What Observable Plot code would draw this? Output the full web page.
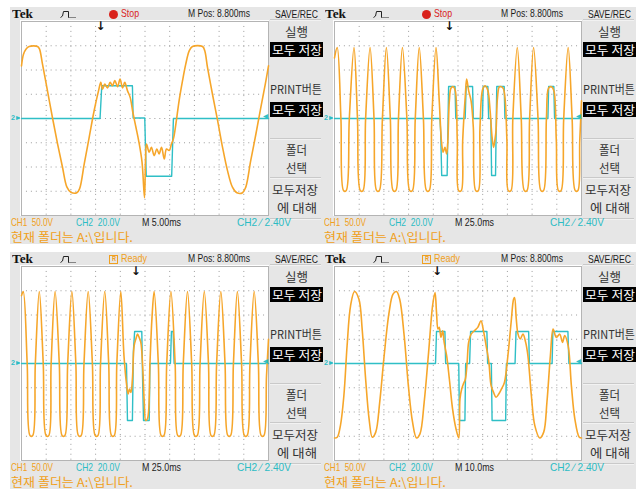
<!DOCTYPE html>
<html><head><meta charset="utf-8">
<script src="https://cdn.jsdelivr.net/npm/d3@7"></script>
<script src="https://cdn.jsdelivr.net/npm/@observablehq/plot@0.6"></script>
<style>
body{margin:0;background:#fff;}
#root{position:relative;width:644px;height:490px;overflow:hidden;background:#fff;}
.panel{position:absolute;width:313px;height:237px;background:#e6e6e6;}
.t{position:absolute;white-space:pre;line-height:1;transform-origin:0 50%;}
.box{position:absolute;background:#000;}
.sep{position:absolute;height:1px;background:#c9c9c9;border-bottom:1px solid #f2f2f2;}
</style></head><body><div id="root"></div>
<script>
// ---- data (x in divisions 0..10, y in divisions -4..4) ----
const p1Ch1 = [[0,2.17],[0.08,2.65],[0.18,2.86],[0.31,2.97],[0.65,2.97],[0.73,2.86],[0.85,2.24],[1.05,1.15],[1.26,0],[1.46,-1.05],[1.66,-2.01],[1.84,-2.83],[2.0,-3.04],[2.24,-3.06],[2.35,-2.9],[2.54,-1.87],[2.74,-0.78],[2.94,0.32],[3.12,1.15],[3.21,1.49],[3.28,1.21],[3.37,1.42],[3.48,1.26],[3.59,1.49],[3.68,1.35],[3.78,1.56],[3.89,1.31],[3.99,1.63],[4.09,1.26],[4.18,1.49],[4.29,1.15],[4.4,0.87],[4.5,0.3],[4.62,-0.3],[4.75,-0.95],[4.88,-1.8],[4.98,-3.27],[5.02,-1.74],[5.06,-1.05],[5.17,-1.39],[5.26,-1.19],[5.37,-1.53],[5.48,-1.26],[5.57,-1.46],[5.67,-1.19],[5.78,-1.67],[5.87,-1.26],[5.98,-1.32],[6.07,-1.05],[6.15,-0.84],[6.25,-0.23],[6.38,0.73],[6.52,1.56],[6.65,2.24],[6.79,2.79],[6.92,2.97],[7.33,2.97],[7.42,2.79],[7.53,2.11],[7.73,1.01],[7.94,-0.09],[8.14,-1.19],[8.34,-2.15],[8.54,-2.83],[8.72,-3.06],[8.95,-3.06],[9.08,-2.83],[9.28,-1.74],[9.49,-0.64],[9.69,0.46],[9.87,1.42],[10,2.17]];
const p1Ch2 = [[0,0],[3.18,0],[3.25,1.35],[4.49,1.35],[4.52,0.02],[4.99,0.02],[5.05,-2.38],[6.08,-2.38],[6.15,0],[10,0]];

const p2Ch1 = [[0,2.5],[0.11,2.93],[0.26,0],[0.37,-2.98],[0.47,-2.98],[0.6,0],[0.79,2.93],[0.93,0],[1.05,-2.98],[1.15,-2.98],[1.26,0],[1.44,2.93],[1.6,0],[1.71,-2.98],[1.81,-2.98],[1.94,0],[2.1,2.93],[2.26,0],[2.38,-2.98],[2.48,-2.98],[2.59,0],[2.75,2.93],[2.93,0],[3.05,-2.98],[3.15,-2.98],[3.27,0],[3.43,2.93],[3.6,0],[3.73,-2.98],[3.83,-2.98],[3.94,0],[4.11,2.93],[4.24,0.73],[4.34,-1.05],[4.4,-1.39],[4.47,-1.19],[4.54,-1.46],[4.59,-0.91],[4.65,0.73],[4.72,1.26],[4.81,1.31],[4.89,1.15],[4.97,-0.91],[5.03,-2.98],[5.13,-2.98],[5.19,-0.91],[5.3,1.01],[5.35,1.63],[5.43,1.15],[5.53,0.73],[5.62,-0.36],[5.72,-2.98],[5.82,-2.98],[5.89,-0.36],[6.0,1.21],[6.1,1.35],[6.21,1.15],[6.3,0.32],[6.38,-0.78],[6.44,-1.19],[6.49,-0.91],[6.54,-0.5],[6.6,0.87],[6.68,1.31],[6.82,1.26],[6.9,0.87],[6.98,-0.91],[7.04,-2.98],[7.14,-2.98],[7.22,0],[7.4,2.93],[7.56,0],[7.69,-2.98],[7.79,-2.98],[7.9,0],[8.06,2.93],[8.24,0],[8.36,-2.98],[8.46,-2.98],[8.58,0],[8.67,1.26],[8.78,1.31],[8.88,1.15],[8.98,-0.91],[9.07,-2.98],[9.17,-2.98],[9.28,0],[9.46,2.93],[9.62,0],[9.75,-2.98],[9.85,-2.98],[9.93,-0.91],[10,0.73]];
const p2Ch2 = [[0,0],[4.27,0],[4.3,-0.6],[4.34,-2.35],[4.56,-2.35],[4.62,1.32],[4.88,1.32],[4.91,0],[5.29,0],[5.33,1.32],[5.59,1.32],[5.62,0],[5.99,0],[6.02,1.32],[6.21,1.32],[6.24,0],[6.33,0],[6.36,-2.35],[6.52,-2.35],[6.55,0],[6.57,1.32],[6.87,1.32],[6.9,0],[8.64,0],[8.67,1.32],[8.88,1.32],[8.91,0],[10,0]];

const p3Ch1 = [[0,2.8],[0.07,2.97],[0.23,0],[0.35,-2.98],[0.45,-2.98],[0.56,0],[0.72,2.97],[0.88,0],[1.0,-2.98],[1.1,-2.98],[1.2,0],[1.36,2.97],[1.53,0],[1.65,-2.98],[1.75,-2.98],[1.87,0],[2.04,2.97],[2.2,0],[2.31,-2.98],[2.41,-2.98],[2.53,0],[2.7,2.97],[2.87,0],[2.99,-2.98],[3.09,-2.98],[3.2,0],[3.37,2.97],[3.53,0],[3.65,-2.98],[3.75,-2.98],[3.86,0],[4.02,2.97],[4.15,0.3],[4.26,-0.91],[4.32,-1.26],[4.37,-1.05],[4.43,-1.19],[4.49,-0.64],[4.56,0.73],[4.63,1.01],[4.7,1.21],[4.76,1.08],[4.83,0.87],[4.9,0],[4.97,-1.6],[5.03,-2.35],[5.1,-2.28],[5.2,0],[5.28,1.83],[5.37,2.97],[5.54,0],[5.66,-2.98],[5.76,-2.98],[5.88,0],[6.05,2.97],[6.22,0],[6.33,-2.98],[6.43,-2.98],[6.55,0],[6.72,2.97],[6.89,0],[7.01,-2.98],[7.11,-2.98],[7.23,0],[7.4,2.97],[7.57,0],[7.68,-2.98],[7.78,-2.98],[7.9,0],[8.07,2.97],[8.24,0],[8.36,-2.98],[8.46,-2.98],[8.58,0],[8.74,2.97],[8.91,0],[9.03,-2.98],[9.13,-2.98],[9.25,0],[9.42,2.97],[9.59,0],[9.71,-2.98],[9.81,-2.98],[9.92,-0.5],[10,1.0]];
const p3Ch2 = [[0,0],[4.25,0],[4.29,-2.35],[4.49,-2.35],[4.53,0.5],[4.58,1.32],[4.87,1.32],[4.9,-0.5],[4.94,-2.35],[5.17,-2.35],[5.2,0],[6.03,0],[6.07,1.32],[6.14,1.32],[6.18,0],[10,0]];

const p4Ch1 = [[0,-3.07],[0.11,-3.04],[0.24,-2.56],[0.38,-1.32],[0.51,0.73],[0.65,2.38],[0.81,2.97],[0.99,2.65],[1.12,1.42],[1.26,-0.64],[1.4,-2.28],[1.53,-3.04],[1.67,-2.83],[1.83,-1.6],[2.01,0.32],[2.21,2.11],[2.37,2.86],[2.51,2.97],[2.64,2.65],[2.82,1.15],[2.99,-0.91],[3.16,-2.42],[3.32,-3.07],[3.46,-2.9],[3.63,-1.6],[3.81,0.46],[3.97,2.38],[4.07,2.93],[4.13,2.11],[4.19,1.42],[4.24,1.49],[4.31,1.08],[4.38,1.35],[4.44,0.87],[4.54,0.32],[4.65,-0.64],[4.78,-1.87],[4.92,-2.7],[5.03,-3.07],[5.08,-1.46],[5.15,-1.05],[5.22,-0.84],[5.3,-0.64],[5.37,0.05],[5.43,0.87],[5.53,1.21],[5.66,1.35],[5.8,1.49],[5.93,1.76],[6.03,1.35],[6.14,0.73],[6.25,0.05],[6.34,-0.91],[6.44,-1.19],[6.54,-1.39],[6.65,-1.26],[6.76,-1.05],[6.88,-0.78],[7.02,0.32],[7.15,1.69],[7.25,2.65],[7.29,2.72],[7.36,1.83],[7.43,1.21],[7.52,1.01],[7.63,1.21],[7.74,0.87],[7.83,0.32],[7.97,-1.32],[8.11,-2.56],[8.31,-3.07],[8.47,-2.83],[8.6,-1.6],[8.74,0.32],[8.85,1.42],[8.98,1.08],[9.12,1.21],[9.23,0.87],[9.32,1.15],[9.46,0.73],[9.59,-0.91],[9.73,-2.28],[9.91,-3.04],[10,-3.07]];
const p4Ch2 = [[0,0],[4.09,0],[4.13,1.32],[4.47,1.32],[4.5,0],[5.03,0],[5.06,-2.35],[5.28,-2.35],[5.31,0],[5.47,0],[5.51,1.32],[6.17,1.32],[6.2,0],[6.35,0],[6.38,-2.35],[6.93,-2.35],[6.96,0],[7.31,0],[7.35,1.32],[7.86,1.32],[7.89,0],[8.81,0],[8.84,1.32],[9.45,1.32],[9.49,0],[10,0]];

const timebases = ["M 5.00ms", "M 25.0ms", "M 25.0ms", "M 10.0ms"];
const states = ["Stop", "Stop", "Ready", "Ready"];
const trigPositions = [3.2, 4.65, 4.63, 4.15];   // divisions
const trigLevel = 2.40 / 20.0;                   // CH2 2.40V at 20V/div
const gridX = [1,2,3,4,5,6,7,8,9];
const gridY = [-3,-2,-1,0,1,2,3];
const menuLabels = ["SAVE/REC", "실행", "모두 저장", "PRINT버튼", "모두 저장", "폴더", "선택", "모두저장", "에 대해"];
const chLabels = ["CH1  50.0V", "CH2  20.0V", "CH2 \u2215 2.40V"];
const folderMsg = "현재 폴더는 A:\\입니다.";

const ORANGE = "#f6a62a", CYAN = "#2fbfc6", OTXT = "#f0a020", CTXT = "#2cbcc4";
const SANS = "'Liberation Sans', Arial, sans-serif";
const KR = "'Noto Sans CJK KR', sans-serif";

const root = document.getElementById("root");

function addText(parent, str, o) {
  const s = document.createElement("span");
  s.className = "t";
  s.textContent = str;
  s.style.fontSize = o.size + "px";
  s.style.fontFamily = o.family || SANS;
  s.style.fontWeight = o.weight || "normal";
  s.style.color = o.color || "#1c1c1c";
  parent.appendChild(s);
  const r = s.getBoundingClientRect();
  const w0 = r.width, h = r.height;
  const w = o.w || w0;
  const sc = w / w0;
  const left = o.cx != null ? o.cx - w / 2 : o.x;
  s.style.left = left + "px";
  s.style.top = (o.y - h / 2) + "px";
  s.style.transform = `scaleX(${sc})`;
  return s;
}
function addDiv(parent, cls, x, y, w, h, extra) {
  const d = document.createElement("div");
  d.className = cls;
  Object.assign(d.style, {left: x + "px", top: y + "px", width: w + "px", height: h + "px"}, extra || {});
  parent.appendChild(d);
  return d;
}

const panelPos = [[10,7],[323,7],[10,252],[323,252]];
const chData = [[p1Ch1,p1Ch2],[p2Ch1,p2Ch2],[p3Ch1,p3Ch2],[p4Ch1,p4Ch2]];

panelPos.forEach(([px, py], i) => {
  const p = addDiv(root, "panel", px, py, 313, 237);

  // header
  addText(p, "Tek", {x: 2, y: 6.8, size: 13, weight: "bold", family: "'Liberation Serif', 'DejaVu Serif', serif", w: 21, color: "#111"});
  const icon = document.createElementNS("http://www.w3.org/2000/svg", "svg");
  icon.setAttribute("width", 17); icon.setAttribute("height", 9);
  icon.style.position = "absolute"; icon.style.left = "50px"; icon.style.top = "3px";
  icon.innerHTML = '<path d="M0.5 7.5 Q3 7.5 3.5 1.5 H8.5 V7.5" fill="none" stroke="#222" stroke-width="1"/><path d="M8.5 7.5 H16.5" stroke="#222" stroke-width="1" stroke-dasharray="1,1"/>';
  p.appendChild(icon);
  if (states[i] === "Stop") {
    addDiv(p, "t", 99, 2.5, 9, 9, {background: "#d9221c", borderRadius: "50%"});
    addText(p, "Stop", {x: 111, y: 6.8, size: 11, w: 18, color: "#d9221c"});
  } else {
    addDiv(p, "t", 99, 3, 7, 7, {border: "1px solid " + OTXT});
    addText(p, "R", {cx: 103.5, y: 6.8, size: 7, w: 4, color: OTXT, weight: "bold"});
    addText(p, "Ready", {x: 111, y: 6.8, size: 11, w: 26, color: OTXT});
  }
  addText(p, "M Pos: 8.800ms", {x: 178, y: 6.8, size: 11, w: 62});

  // right menu
  addText(p, menuLabels[0], {x: 265, y: 6.8, size: 10.5, w: 43});
  addDiv(p, "sep", 260, 12, 51, 1);
  addText(p, menuLabels[1], {cx: 286.5, y: 25, size: 12, w: 23, family: KR, color: "#333"});
  addDiv(p, "box", 260, 35, 53, 15);
  addText(p, menuLabels[2], {x: 262, y: 42.5, size: 12, w: 50, family: KR, color: "#fff"});
  addText(p, menuLabels[3], {x: 260, y: 82.3, size: 12, w: 52, family: KR, color: "#333"});
  addDiv(p, "box", 260, 95, 53, 15);
  addText(p, menuLabels[4], {x: 262, y: 102.5, size: 12, w: 50, family: KR, color: "#fff"});
  addDiv(p, "sep", 260, 131, 51, 1);
  addText(p, menuLabels[5], {cx: 286.5, y: 143, size: 12, w: 21, family: KR, color: "#333"});
  addText(p, menuLabels[6], {cx: 286.5, y: 161.3, size: 12, w: 21, family: KR, color: "#333"});
  addDiv(p, "sep", 260, 170, 51, 1);
  addText(p, menuLabels[7], {x: 262, y: 183, size: 12, w: 46, family: KR, color: "#333"});
  addText(p, menuLabels[8], {x: 267, y: 201.3, size: 12, w: 40, family: KR, color: "#333"});
  addDiv(p, "sep", 260, 211, 51, 1);

  // bottom status
  addText(p, chLabels[0], {x: 1, y: 215.3, size: 11, w: 42, color: OTXT});
  addText(p, chLabels[1], {x: 66, y: 215.3, size: 11, w: 44, color: CTXT});
  addText(p, timebases[i], {x: 132, y: 215.3, size: 11, w: 39, color: "#1c1c1c"});
  addText(p, chLabels[2], {x: 227, y: 215.3, size: 11, w: 54, color: CTXT});
  addText(p, folderMsg, {x: 1, y: 230.3, size: 12, w: 122, family: KR, color: OTXT});

  // left ground marker for CH2
  addText(p, "2", {x: 1, y: 111, size: 8, weight: "bold", w: 4, color: CTXT});
  addText(p, "\u25B8", {x: 5.5, y: 111, size: 8, w: 5, color: CTXT, family: "'DejaVu Sans', sans-serif"});

  const [ch1, ch2] = chData[i];
  const chart = Plot.plot({
    width: 249, height: 196, margin: 1,
    x: {domain: [0, 10], axis: null},
    y: {domain: [-4, 4], axis: null},
    style: {background: "#fff", overflow: "visible"},
    marks: [
      Plot.ruleX(gridX, {stroke: "#9c9c9c", strokeWidth: 1, strokeDasharray: "1,3.94"}),
      Plot.ruleY(gridY, {stroke: "#9c9c9c", strokeWidth: 1, strokeDasharray: "1,3.94"}),
      Plot.frame({stroke: "#b4b4b4"}),
      Plot.line(ch2, {x: d => d[0], y: d => d[1], stroke: CYAN, strokeWidth: 1.4}),
      Plot.line(ch1, {x: d => d[0], y: d => d[1], stroke: ORANGE, strokeWidth: 1.6, curve: "catmull-rom"}),
      Plot.text([trigPositions[i]], {x: d => d, y: 4, text: () => "\u2193", dy: 5, fontSize: 12, fontWeight: "bold", fill: "#111", fontFamily: "DejaVu Sans"}),
      Plot.text([trigLevel], {x: 10, y: d => d, text: () => "\u25C2", dx: -3, fontSize: 10, fill: CYAN, fontFamily: "DejaVu Sans"})
    ]
  });
  chart.style.position = "absolute";
  chart.style.left = "10px";
  chart.style.top = "13px";
  p.appendChild(chart);
});
</script></body></html>
